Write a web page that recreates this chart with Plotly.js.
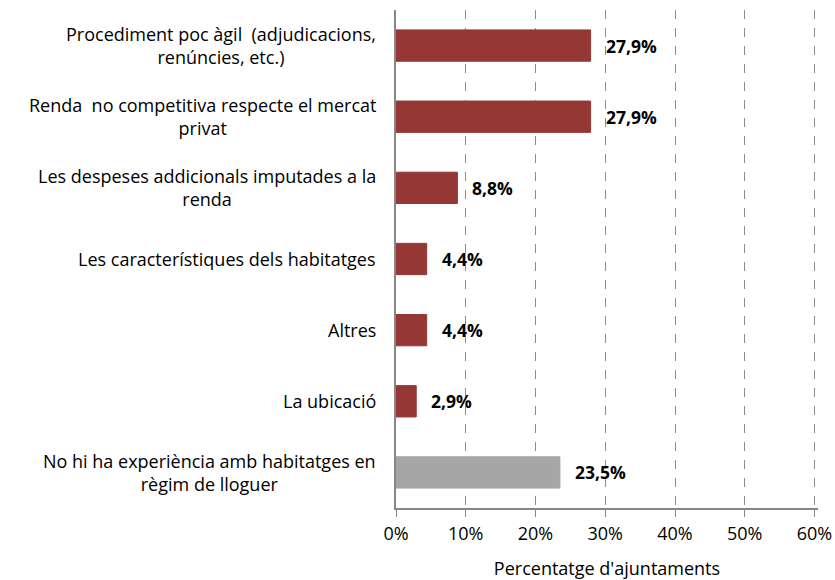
<!DOCTYPE html>
<html>
<head>
<meta charset="utf-8">
<script src="https://cdn.plot.ly/plotly-3.0.1.min.js"></script>
<style>html,body{margin:0;padding:0;background:#fff;}#chart{width:835px;height:580px;}</style>
</head>
<body>
<div id="chart"></div>
<script>
const categories = [
  "Procediment poc àgil  (adjudicacions,<br>renúncies, etc.)",
  "Renda  no competitiva respecte el mercat<br>privat",
  "Les despeses addicionals imputades a la<br>renda",
  "Les característiques dels habitatges",
  "Altres",
  "La ubicació",
  "No hi ha experiència amb habitatges en<br>règim de lloguer"
];
const values = [27.9, 27.9, 8.8, 4.4, 4.4, 2.9, 23.5];
const barColors = ["#953735", "#953735", "#953735", "#953735", "#953735", "#953735", "#a6a6a6"];
const tickValues = [0, 10, 20, 30, 40, 50, 60];
const axisTitle = "Percentatge d'ajuntaments";

const FONT = "'Open Sans', sans-serif";
const ids = categories.map((c, i) => "c" + i);

const trace = {
  type: "bar",
  orientation: "h",
  y: ids,
  x: values,
  width: 0.44,
  marker: { color: barColors, line: { color: barColors, width: 1 } },
  hoverinfo: "none"
};

const annotations = [];
categories.forEach((c, i) => {
  annotations.push({
    xref: "paper", yref: "y", x: 0, y: ids[i],
    xanchor: "right", yanchor: "middle", xshift: -18,
    text: c, showarrow: false, align: "center",
    font: { family: FONT, size: 18, color: "#000" }
  });
  annotations.push({
    xref: "x", yref: "y", x: values[i], y: ids[i],
    xanchor: "left", yanchor: "middle", xshift: 13,
    text: "<b>" + values[i].toFixed(1).replace(".", ",") + "%</b>",
    showarrow: false,
    font: { family: FONT, size: 17.5, color: "#000" }
  });
});

const layout = {
  width: 835, height: 580,
  margin: { l: 396, r: 17, t: 10, b: 72 },
  paper_bgcolor: "#fff", plot_bgcolor: "#fff",
  showlegend: false,
  separators: ",.",
  xaxis: {
    range: [0, 60.5],
    tickvals: tickValues,
    ticktext: tickValues.map(v => v + "%"),
    showgrid: true, gridcolor: "#8c8c8c", griddash: "dash", gridwidth: 1,
    zeroline: false,
    showline: false,
    ticks: "",
    ticklabelstandoff: 13,
    tickfont: { family: FONT, size: 18, color: "#000" },
    title: { text: axisTitle, font: { family: FONT, size: 18, color: "#000" }, standoff: 18 },
    fixedrange: true
  },
  yaxis: {
    type: "category",
    autorange: "reversed",
    showticklabels: false,
    showgrid: false, zeroline: false,
    showline: true, linecolor: "#868686", linewidth: 2,
    ticks: "",
    fixedrange: true
  },
  xaxis2: {
    overlaying: "x", matches: "x", range: [0, 60.5],
    tickvals: tickValues, showticklabels: false,
    showgrid: false, zeroline: false,
    showline: true, linecolor: "#868686", linewidth: 1.5,
    ticks: "outside", ticklen: 7, tickcolor: "#868686", tickwidth: 1,
    fixedrange: true
  },
  annotations: annotations
};

Plotly.newPlot("chart", [trace, { type: "scatter", x: [], y: [], xaxis: "x2", hoverinfo: "none" }], layout, { displayModeBar: false, staticPlot: true });
</script>
</body>
</html>
